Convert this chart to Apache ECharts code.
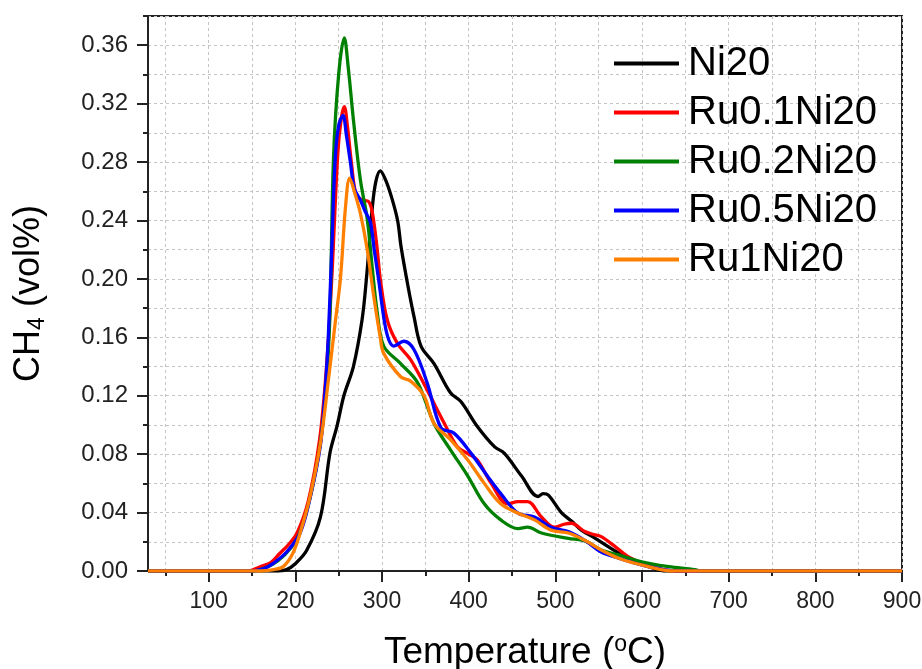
<!DOCTYPE html>
<html>
<head>
<meta charset="utf-8">
<script src="https://cdn.jsdelivr.net/npm/echarts@6/dist/echarts.min.js"></script>
<style>
  html, body { margin: 0; padding: 0; background: #fff; }
  #chart { width: 922px; height: 669px; }
</style>
</head>
<body>
<div id="chart"></div>
<script>
// temperature (°C), CH4 (vol%) pairs
const ni20 = [
  [30, 0], [150, 0], [180, 0], [190, 0.001], [200, 0.005], [213, 0.014], [229, 0.037],
  [240, 0.081], [248, 0.099], [256, 0.12], [267, 0.14], [277, 0.172], [282, 0.2],
  [289, 0.25], [293, 0.267], [298, 0.274], [304, 0.268], [311, 0.256], [318, 0.24],
  [322, 0.222], [330, 0.195], [337, 0.174], [345, 0.154], [360, 0.142], [379, 0.122],
  [391, 0.116], [410, 0.099], [430, 0.085], [441, 0.0807], [461, 0.065], [480, 0.051],
  [486, 0.053], [492, 0.052], [507, 0.04], [519, 0.034], [530, 0.028], [546, 0.0224],
  [561, 0.0167], [577, 0.011], [592, 0.0064], [608, 0.003], [625, 0], [900, 0]
]
const ru01 = [
  [30, 0], [145, 0], [160, 0.003], [172, 0.006], [182, 0.012], [192, 0.018], [202, 0.026],
  [215, 0.048], [228, 0.09], [236, 0.14], [242, 0.2], [249, 0.286], [253, 0.31],
  [256.5, 0.318], [260, 0.305], [265, 0.278], [270, 0.258], [277, 0.254], [284.5, 0.253],
  [289, 0.245], [294.5, 0.22], [298, 0.2], [306, 0.172], [317.6, 0.156], [333, 0.1447],
  [352, 0.124], [372, 0.101], [387, 0.085], [400, 0.08], [410, 0.076], [426, 0.06],
  [445, 0.046], [457, 0.0475], [468, 0.0475], [484, 0.037], [499, 0.03], [510, 0.032],
  [518.5, 0.0327], [534, 0.027], [546, 0.0247], [553, 0.0235], [569, 0.0167], [584, 0.0098],
  [607, 0.0035], [625, 0.001], [640, 0], [900, 0]
]
const ru02 = [
  [30, 0], [150, 0], [165, 0.002], [180, 0.007], [195, 0.016], [205, 0.026], [217, 0.05],
  [229, 0.088], [236, 0.13], [240, 0.177], [244, 0.282], [250, 0.34], [256.5, 0.365],
  [261, 0.345], [267, 0.309], [275, 0.268], [283, 0.241], [289, 0.206], [294.5, 0.177],
  [302, 0.154], [321.5, 0.142], [341, 0.129], [360, 0.101], [379, 0.083], [399, 0.065],
  [418, 0.046], [437, 0.035], [457, 0.029], [468, 0.03], [484, 0.026], [515, 0.0224],
  [534, 0.0206], [553, 0.0144], [573, 0.011], [592, 0.0075], [608, 0.0053], [631, 0.003],
  [661, 0.001], [668, 0], [900, 0]
]
const ru05 = [
  [30, 0], [150, 0], [165, 0.002], [174, 0.005], [190, 0.013], [205.5, 0.026], [217, 0.05],
  [228.7, 0.085], [234, 0.12], [238, 0.16], [242, 0.22], [246, 0.282], [250, 0.305],
  [255, 0.312], [259, 0.298], [263.5, 0.28], [268, 0.262], [275, 0.254], [280, 0.247],
  [286.7, 0.2385], [291, 0.22], [296, 0.2], [303, 0.17], [308, 0.158], [313.7, 0.154],
  [325, 0.1573], [337, 0.1515], [352, 0.129], [368, 0.098], [383, 0.0944], [402.6, 0.0807],
  [422, 0.0647], [437, 0.053], [457, 0.0396], [476, 0.037], [495, 0.03], [515, 0.027],
  [534, 0.021], [553, 0.013], [573, 0.0087], [592, 0.0053], [607, 0.003], [625, 0.001],
  [640, 0], [900, 0]
]
const ru1 = [
  [30, 0], [160, 0], [175, 0.001], [186, 0.003], [197, 0.012], [205.5, 0.026], [217, 0.051],
  [229, 0.0876], [238, 0.13], [246, 0.17], [252, 0.2], [258, 0.25], [262.7, 0.269],
  [268, 0.26], [275, 0.245], [283, 0.22], [290, 0.19], [298, 0.16], [302, 0.149],
  [321.5, 0.133], [333, 0.13], [348.5, 0.12], [360, 0.101], [379, 0.09], [399, 0.076],
  [418, 0.06], [437, 0.046], [457, 0.0396], [476, 0.035], [495, 0.028], [515, 0.026],
  [534, 0.021], [553, 0.0144], [573, 0.0087], [592, 0.0053], [607, 0.003], [622, 0.001],
  [635, 0], [900, 0]
]

const seriesNames = ['Ni20', 'Ru0.1Ni20', 'Ru0.2Ni20', 'Ru0.5Ni20', 'Ru1Ni20']
const seriesData = [ni20, ru01, ru02, ru05, ru1]
const seriesColors = ['#000000', '#ff0000', '#008000', '#0000ff', '#ff8000']

const xMajorTicks = [100, 200, 300, 400, 500, 600, 700, 800, 900]
const xMinorTicks = [50, 150, 250, 350, 450, 550, 650, 750, 850]
const yMajorTicks = [0, 0.04, 0.08, 0.12, 0.16, 0.2, 0.24, 0.28, 0.32, 0.36]
const yMinorTicks = [0.02, 0.06, 0.1, 0.14, 0.18, 0.22, 0.26, 0.3, 0.34, 0.38]

const font = '"Liberation Sans", Arial, sans-serif'
const axisColor = '#222'
const gridLine = { show: true, lineStyle: { color: '#c4c4c4', width: 1, type: [3, 3] } }

const chart = echarts.init(document.getElementById('chart'), null, { renderer: 'canvas' })

const baseX = {
  type: 'value', min: 30, max: 900, position: 'bottom',
  axisLine: { show: true, onZero: false, lineStyle: { color: axisColor, width: 2 } },
  splitLine: gridLine
}
const baseY = {
  type: 'value', min: 0, max: 0.38, position: 'left',
  axisLine: { show: true, onZero: false, lineStyle: { color: axisColor, width: 2 } },
  splitLine: gridLine
}

chart.setOption({
  animation: false,
  textStyle: { fontFamily: font },
  grid: {
    left: 148, right: 20, top: 16, bottom: 98,
    outerBoundsMode: 'none',
    containLabel: false,
    show: true, borderColor: axisColor, borderWidth: 2
  },
  legend: {
    orient: 'vertical',
    left: 609, top: 36,
    itemWidth: 65, itemHeight: 4, itemGap: 4,
    icon: 'rect',
    data: seriesNames,
    textStyle: { fontSize: 40, lineHeight: 45, color: '#000', fontFamily: font, padding: [0, 0, 0, 4] }
  },
  xAxis: [
    Object.assign({}, baseX, {
      name: '{a|Temperature (}{sup|o}{a|C)}',
      nameLocation: 'middle', nameGap: 63,
      nameTextStyle: {
        rich: {
          a: { fontSize: 37, color: '#000', fontFamily: font, lineHeight: 38 },
          sup: { fontSize: 23, color: '#000', fontFamily: font, lineHeight: 23, padding: [0, 0, 17, 0] }
        }
      },
      axisTick: { show: true, length: 11, customValues: xMajorTicks, lineStyle: { color: axisColor, width: 2 } },
      axisLabel: { customValues: xMajorTicks, fontSize: 23, color: axisColor, margin: 19 }
    }),
    Object.assign({}, baseX, {
      axisTick: { show: true, length: 5, customValues: xMinorTicks, lineStyle: { color: axisColor, width: 2 } },
      axisLabel: { show: false, customValues: xMinorTicks }
    })
  ],
  yAxis: [
    Object.assign({}, baseY, {
      name: '{a|CH}{sub|4}{a| (vol%)}',
      nameLocation: 'middle', nameGap: 100,
      nameTextStyle: {
        rich: {
          a: { fontSize: 36, color: '#000', fontFamily: font, lineHeight: 38 },
          sub: { fontSize: 23, color: '#000', fontFamily: font, lineHeight: 23, padding: [17, 0, 0, 0] }
        }
      },
      axisTick: { show: true, length: 11, customValues: yMajorTicks, lineStyle: { color: axisColor, width: 2 } },
      axisLabel: {
        customValues: yMajorTicks, fontSize: 24, color: axisColor, margin: 20,
        formatter: v => v.toFixed(2)
      }
    }),
    Object.assign({}, baseY, {
      axisTick: { show: true, length: 5, customValues: yMinorTicks, lineStyle: { color: axisColor, width: 2 } },
      axisLabel: { show: false, customValues: yMinorTicks }
    })
  ],
  series: seriesNames.map((name, i) => ({
    name: name,
    type: 'line',
    data: seriesData[i],
    xAxisIndex: 0,
    yAxisIndex: 0,
    smooth: 0.35,
    showSymbol: false,
    symbol: 'none',
    color: seriesColors[i],
    lineStyle: { color: seriesColors[i], width: 3.3 }
  }))
})
</script>
</body>
</html>
